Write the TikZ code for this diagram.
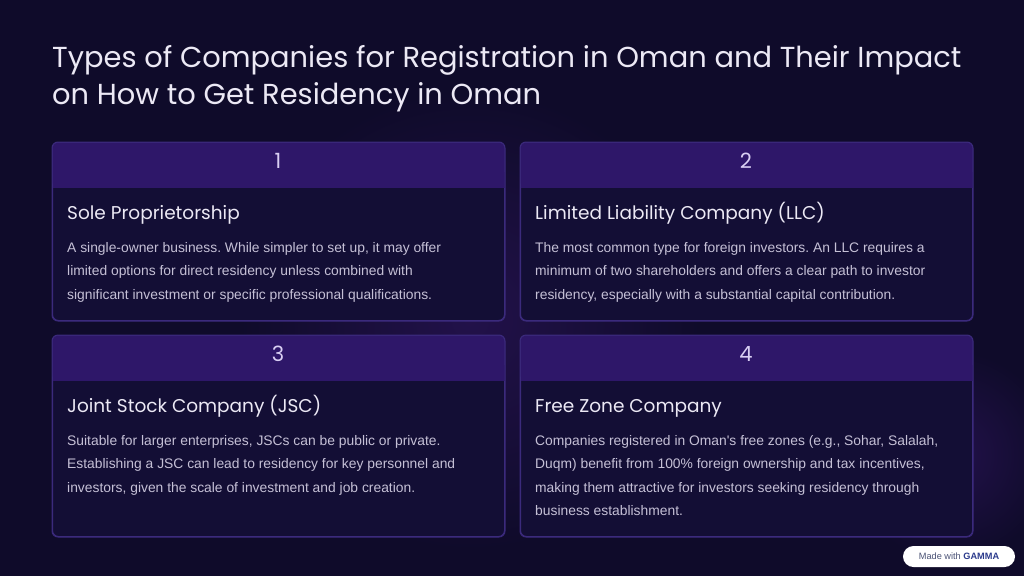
\documentclass[tikz,border=0pt]{standalone}
\usepackage{fontspec}
\setmainfont{Liberation Sans}
\newfontfamily\titlefont{Poppins}
\newfontfamily\bodyfont{Liberation Sans}
\usetikzlibrary{calc}
\frenchspacing
\definecolor{bg}{HTML}{0F0B2A}
\definecolor{cardbg}{HTML}{130E35}
\definecolor{headbg}{HTML}{2E1769}
\definecolor{cardline}{HTML}{3B2A7C}
\definecolor{titlecol}{HTML}{ECE9F5}
\definecolor{bodycol}{HTML}{C5C0D6}
\definecolor{numcol}{HTML}{D9CFF3}
\definecolor{glow}{HTML}{22114A}
\definecolor{badgetext}{HTML}{4A5275}
\definecolor{badgebold}{HTML}{2B3A8C}
\tikzset{
  card/.style={draw=cardline, line width=1pt, fill=cardbg, rounded corners=6pt, minimum width=452pt, anchor=north west, inner sep=0pt},
  headtext/.style={font=\titlefont\fontsize{18.5}{23}\selectfont, text=titlecol, anchor=base west, inner sep=0pt},
  numtext/.style={font=\titlefont\fontsize{21}{25}\selectfont, text=numcol, anchor=center, inner sep=0pt},
  bodytext/.style={font=\bodyfont\fontsize{13.85}{23.4}\selectfont, text=bodycol, anchor=north west, align=left, inner sep=0pt},
  maintitle/.style={font=\titlefont\fontsize{28.9}{37}\selectfont, text=titlecol, anchor=base west, inner sep=0pt},
}
\begin{document}
\begin{tikzpicture}[x=1pt,y=-1pt]
\useasboundingbox (0,0) rectangle (1024,576);
\fill[bg] (0,0) rectangle (1024,576);
\shade[inner color=glow, outer color=bg] (470,320) circle (230);
\shade[inner color=glow, outer color=bg] (950,455) circle (105);

\node[maintitle] (t1) at (52,67) {Types of Companies for Registration in Oman and Their Impact};
\node[maintitle] (t2) at (52,104) {on How to Get Residency in Oman};

% cards
\foreach \nm/\x/\y/\h in {c1/52/142/178, c2/520/142/178, c3/52/335/201, c4/520/335/201}{
  \node[card, minimum height=\h pt] (\nm) at (\x,\y) {};
  \fill[headbg, rounded corners=6pt] ($(\nm.north west)+(0.5,0.5)$) rectangle ($(\nm.north east)+(-0.5,45.5)$);
  \fill[headbg] ($(\nm.north west)+(0.5,30)$) rectangle ($(\nm.north east)+(-0.5,45.5)$);
  \draw[cardline, line width=1pt, rounded corners=6pt] (\nm.north west) rectangle (\nm.south east);
}

\node[numtext] (n1) at (278,161) {1};
\node[numtext] (n2) at (746,161) {2};
\node[numtext] (n3) at (278,354) {3};
\node[numtext] (n4) at (746,354) {4};

\node[headtext] (h1) at (67,219) {Sole Proprietorship};
\node[headtext] (h2) at (535,219) {Limited Liability Company (LLC)};
\node[headtext] (h3) at (67,412) {Joint Stock Company (JSC)};
\node[headtext] (h4) at (535,412) {Free Zone Company};

\node[bodytext] (b1) at (67,242) {A single-owner business. While simpler to set up, it may offer\\limited options for direct residency unless combined with\\significant investment or specific professional qualifications.};
\node[bodytext] (b2) at (535,242) {The most common type for foreign investors. An LLC requires a\\minimum of two shareholders and offers a clear path to investor\\residency, especially with a substantial capital contribution.};
\node[bodytext] (b3) at (67,435) {Suitable for larger enterprises, JSCs can be public or private.\\Establishing a JSC can lead to residency for key personnel and\\investors, given the scale of investment and job creation.};
\node[bodytext] (b4) at (535,435) {Companies registered in Oman's free zones (e.g., Sohar, Salalah,\\Duqm) benefit from 100\% foreign ownership and tax incentives,\\making them attractive for investors seeking residency through\\business establishment.};

% badge
\node[fill=white, rounded corners=10.5pt, minimum width=112pt, minimum height=21pt, inner sep=0pt, anchor=center] (badge) at (959,556.5) {};
\node[font=\fontsize{9.2}{11}\selectfont, text=badgetext, inner sep=0pt] (badgetxt) at (badge.center) {Made with \textcolor{badgebold}{\textbf{GAMMA}}};
\end{tikzpicture}
\end{document}
